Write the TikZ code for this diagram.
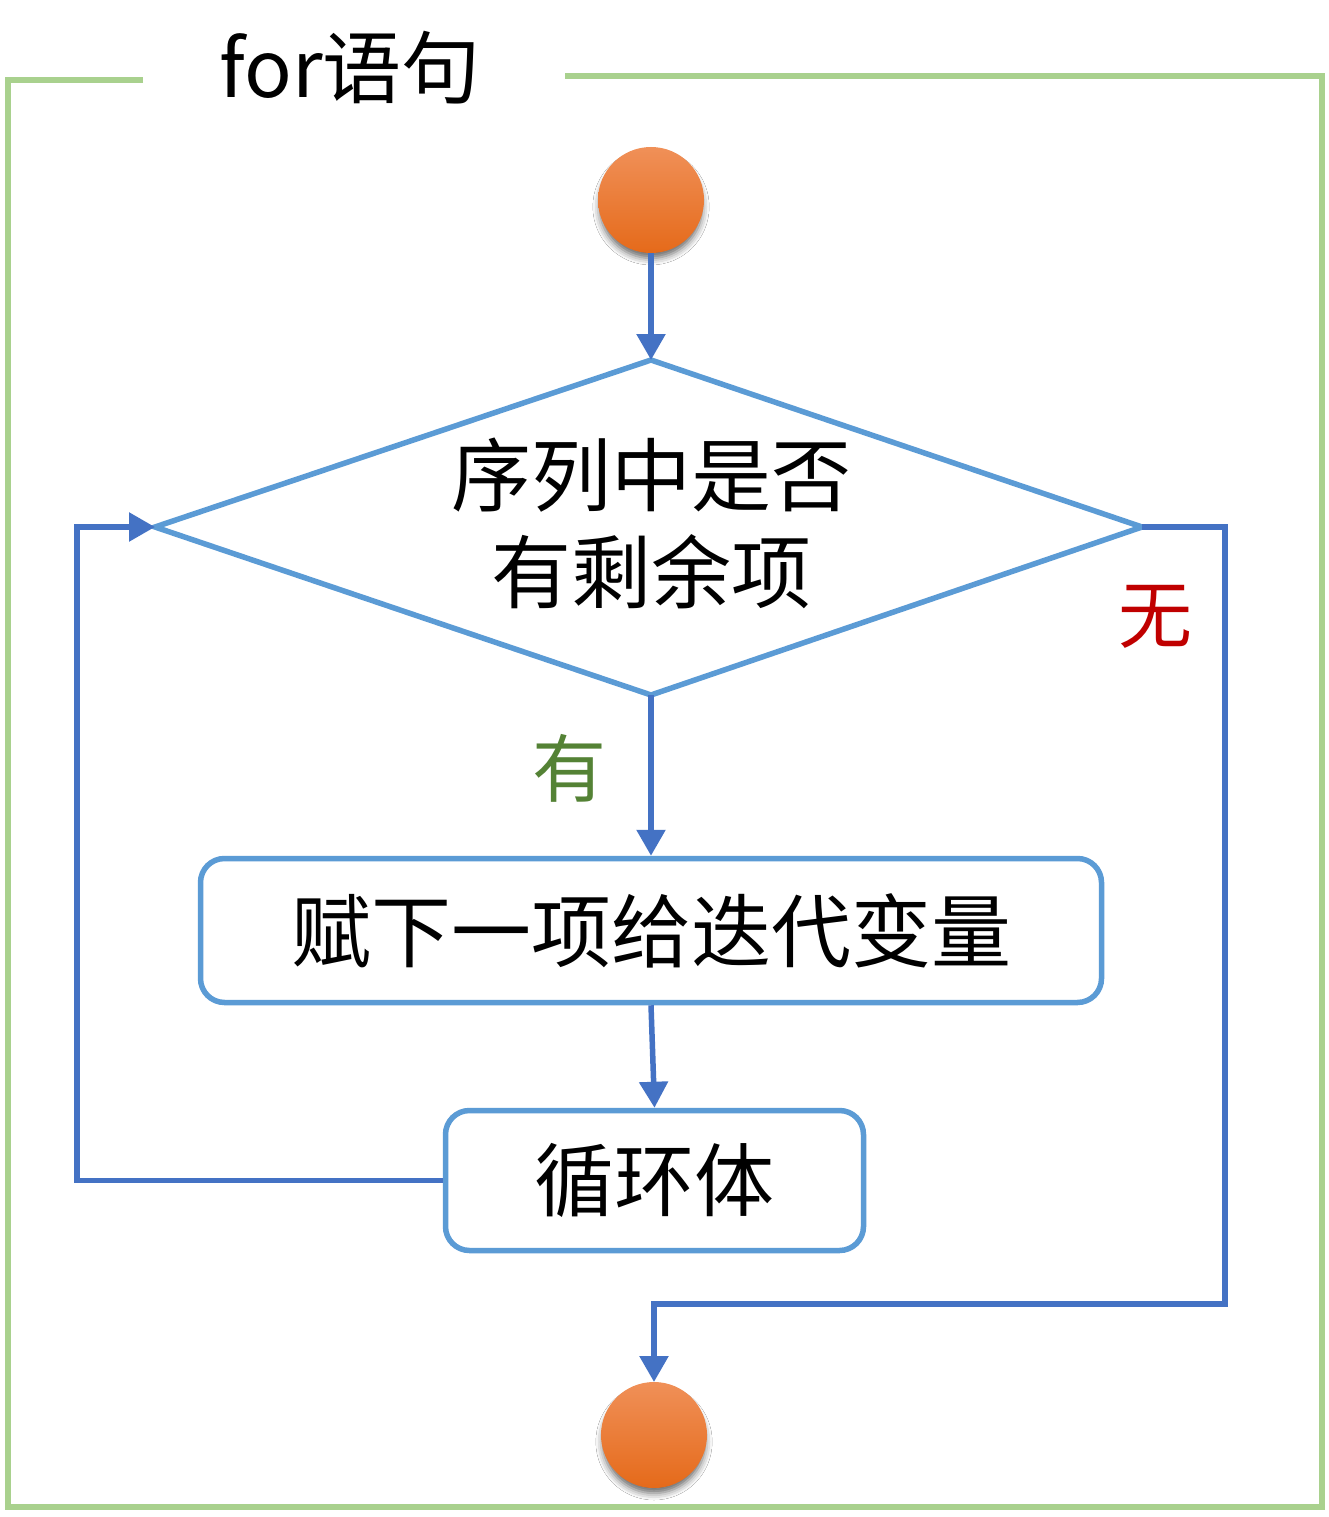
\documentclass[tikz,border=0pt]{standalone}
\usepackage{fontspec}
\setmainfont{Noto Sans CJK SC}
\usetikzlibrary{arrows.meta,shadows.blur}
\definecolor{frameg}{HTML}{A9D18E}
\definecolor{shapeb}{HTML}{5B9BD5}
\definecolor{lineb}{HTML}{4472C4}
\definecolor{orangeT}{HTML}{F09058}
\definecolor{orangeM}{HTML}{F47E2C}
\definecolor{orangeB}{HTML}{E56A1A}
\definecolor{yesg}{HTML}{548235}
\definecolor{nored}{HTML}{C00000}
\begin{document}
\begin{tikzpicture}[x=1pt,y=-1pt,
  endpt/.style={circle,minimum size=106pt,inner sep=0pt,outer sep=0pt,
    top color=orangeT,middle color=orangeM,bottom color=orangeB,
    blur shadow={shadow xshift=0pt,shadow yshift=-7pt,shadow scale=0.97,shadow blur radius=7pt,shadow opacity=60}},
  boxstyle/.style={draw=shapeb,line width=5.5pt,rounded corners=24pt,inner sep=0pt,fill=white,
    font=\fontsize{80pt}{97pt}\selectfont},
  diastyle/.style={draw=shapeb,line width=5.5pt,line join=miter},
  conn/.style={draw=lineb,line width=5.5pt,-{Triangle[length=26pt,width=28pt]}},
  framestyle/.style={draw=frameg,line width=6pt,line join=miter},
  lbl/.style={inner sep=0pt,font=\fontsize{74pt}{80pt}\selectfont}]
\useasboundingbox (0,0) rectangle (1329,1517);
\fill[white] (0,0) rectangle (1329,1517);
% frame
\draw[framestyle] (143,80) -- (8,80) -- (8,1507) -- (1322,1507) -- (1322,76) -- (565,76);
\node[lbl,font=\fontsize{79pt}{80pt}\selectfont] (title) at (350,68) {for语句};
% diamond
\coordinate (dN) at (651,360);
\coordinate (dS) at (651,695);
\coordinate (dW) at (155,527);
\coordinate (dE) at (1142,527);
\draw[diastyle] (dN) -- (dE) -- (dS) -- (dW) -- cycle;
\node[inner sep=0pt,align=center,font=\fontsize{80pt}{97pt}\selectfont] (dia) at (651,523) {序列中是否\\有剩余项};
% nodes
\node[endpt] (start) at (651,200) {};
\node[boxstyle,minimum width=901pt,minimum height=144pt] (box1) at (651,930.5) {赋下一项给迭代变量};
\node[boxstyle,minimum width=418pt,minimum height=140pt] (box2) at (654.5,1180.5) {循环体};
\node[endpt] (stop) at (654,1435) {};
\coordinate (lx) at (77,527);
\coordinate (rx) at (1225,1304);
% connectors
\draw[conn] (start) -- (dN);
\draw[conn] (dS) -- (box1.north);
\draw[conn] (box1.south) -- (box2.north);
\draw[conn] (box2.west) -| (lx) -- (dW);
\draw[conn] (dE) -| (rx) -| (stop.north);
% labels
\node[lbl,text=yesg] (yes) at (569,768) {有};
\node[lbl,text=nored] (no) at (1155,617) {无};
\end{tikzpicture}
\end{document}
